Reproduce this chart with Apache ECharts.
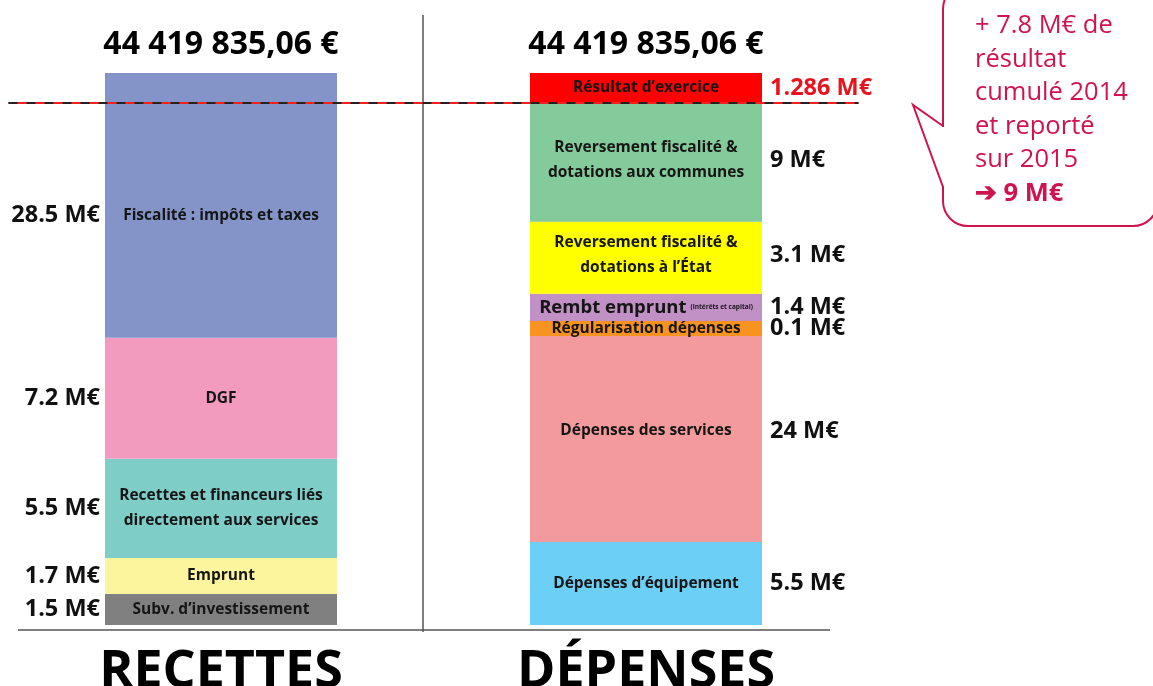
<!DOCTYPE html>
<html>
<head>
<meta charset="utf-8">
<script src="https://cdn.jsdelivr.net/npm/echarts@6/dist/echarts.min.js"></script>
<style>
  html, body { margin: 0; padding: 0; background: #fff; }
  #chart { width: 1153px; height: 686px; }
</style>
</head>
<body>
<div id="chart"></div>
<script>
const categories = ['RECETTES', 'DÉPENSES'];
const totals = ['44 419 835,06 €', '44 419 835,06 €'];

// recettes, du bas vers le haut (hauteurs telles que dessinées, schéma non proportionnel)
const recettesPostes = ['Subv. d’investissement', 'Emprunt', 'Recettes et financeurs liés\ndirectement aux services', 'DGF', 'Fiscalité : impôts et taxes'];
const recettesMontants = ['1.5 M€', '1.7 M€', '5.5 M€', '7.2 M€', '28.5 M€'];
const recettesHauteurs = [2.5, 2.9, 8.0, 9.75, 21.35];

// dépenses, du bas vers le haut
const depensesPostes = ['Dépenses d’équipement', 'Dépenses des services', 'Régularisation dépenses', '{a|Rembt emprunt} {b|(intérêts et capital)}', 'Reversement fiscalité &\ndotations à l’État', 'Reversement fiscalité &\ndotations aux communes', 'Résultat d’exercice'];
const depensesMontants = ['5.5 M€', '24 M€', '0.1 M€', '1.4 M€', '3.1 M€', '9 M€', '1.286 M€'];
const depensesHauteurs = [6.7, 16.6, 1.2, 2.2, 5.8, 9.6, 2.4];

const bulleLignes = ['+ 7.8 M€ de', 'résultat', 'cumulé 2014', 'et reporté', 'sur 2015'];
const bulleConclusion = '➔ 9 M€';

// styles
const recettesCouleurs = ['#808080', '#fdf59d', '#7fcdc7', '#f39abf', '#8494c8'];
const depensesCouleurs = ['#6ccff5', '#f29a9c', '#f7931e', '#c190c5', '#ffff00', '#84cb9c', '#ff0000'];
const recettesDecalages = [0, 0, 0, 0, 10];
const depensesDecalages = [0, -8, 0, 0, -3, -2, 0];
const police = '"Open Sans", "Noto Sans", sans-serif';
const rouge = '#d0134e';

// niveau du trait pointillé : sommet des dépenses hors résultat
const niveauResultat = depensesHauteurs.slice(0, -1).reduce((a, b) => a + b, 0);

const series = [];
function ajouter(postes, montants, hauteurs, couleurs, decalages, col) {
  postes.forEach(function (nom, i) {
    const data = col === 0 ? [hauteurs[i], '-'] : ['-', hauteurs[i]];
    series.push({
      type: 'bar',
      stack: 'barres',
      barWidth: 232,
      barGap: '-100%',
      data: data,
      itemStyle: { color: couleurs[i] },
      label: {
        show: true,
        position: 'inside',
        offset: [0, decalages[i]],
        formatter: nom,
        fontFamily: police,
        fontWeight: 'bold',
        fontSize: 15.5,
        lineHeight: 25,
        color: '#151515',
        rich: {
          a: { fontFamily: police, fontWeight: 'bold', fontSize: 18.5, color: '#151515' },
          b: { fontFamily: police, fontWeight: 'bold', fontSize: 6.5, color: '#151515' }
        }
      }
    });
    const rougeMontant = col === 1 && i === postes.length - 1;
    series.push({
      type: 'bar',
      stack: 'montants',
      barWidth: 232,
      barGap: '-100%',
      data: data,
      itemStyle: { color: 'transparent' },
      label: {
        show: true,
        position: col === 0 ? 'left' : 'right',
        distance: col === 0 ? 5 : 8,
        offset: [0, decalages[i]],
        formatter: montants[i],
        fontFamily: police,
        fontWeight: 'bold',
        fontSize: 23.5,
        color: rougeMontant ? '#e8141c' : '#111'
      }
    });
  });
}
ajouter(recettesPostes, recettesMontants, recettesHauteurs, recettesCouleurs, recettesDecalages, 0);
ajouter(depensesPostes, depensesMontants, depensesHauteurs, depensesCouleurs, depensesDecalages, 1);

// trait rouge continu + tirets noirs au niveau du résultat
series[series.length - 2].markLine = {
  silent: true,
  symbol: 'none',
  label: { show: false },
  data: [{ yAxis: niveauResultat, lineStyle: { color: '#ff1f1f', width: 2, type: 'solid', opacity: 1 } }]
};
series[series.length - 1].markLine = {
  silent: true,
  symbol: 'none',
  label: { show: false },
  data: [{ yAxis: niveauResultat, lineStyle: { color: '#222', width: 2, type: [9, 9], opacity: 1 } }]
};

const bulleTextes = bulleLignes.map(function (t, i) {
  return {
    type: 'text', left: 975, top: 13 + i * 33.5, z: 20,
    style: { text: t, fill: rouge, font: '25.5px ' + police }
  };
});
bulleTextes.push({
  type: 'text', left: 975, top: 13 + 5 * 33.5, z: 20,
  style: { text: bulleConclusion, fill: rouge, font: 'bold 25.5px ' + police }
});

const chart = echarts.init(document.getElementById('chart'));
chart.setOption({
  animation: false,
  backgroundColor: '#fff',
  grid: { left: 8.5, right: 294.5, top: 73, bottom: 61, outerBoundsMode: 'none', containLabel: false },
  xAxis: [
    {
      type: 'category',
      data: categories,
      axisLine: { show: false },
      axisTick: { show: false },
      axisLabel: { margin: 21, fontFamily: police, fontWeight: 'bold', fontSize: 52, color: '#000' }
    },
    {
      type: 'category',
      position: 'top',
      data: categories,
      axisLine: { show: false },
      axisTick: { show: false },
      axisLabel: {
        margin: 12,
        formatter: function (v, i) { return totals[i]; },
        fontFamily: police, fontWeight: 'bold', fontSize: 32, color: '#000'
      }
    }
  ],
  yAxis: { type: 'value', min: 0, max: 44.5, show: false },
  series: series,
  graphic: [
    { type: 'line', shape: { x1: 423, y1: 15, x2: 423, y2: 632 }, style: { stroke: '#555', lineWidth: 1.5 } },
    { type: 'line', shape: { x1: 18, y1: 630, x2: 830, y2: 630 }, style: { stroke: '#555', lineWidth: 1.5 } },
    { type: 'rect', shape: { x: 943, y: -16, width: 215, height: 242, r: 25 }, style: { fill: '#fff', stroke: rouge, lineWidth: 2 } },
    { type: 'polygon', shape: { points: [[941, 127], [946, 127], [946, 186], [941, 186]] }, style: { fill: '#fff' } },
    { type: 'polyline', shape: { points: [[943, 126], [913, 105], [943, 187]] }, style: { stroke: rouge, lineWidth: 2, fill: null } }
  ].concat(bulleTextes)
});
</script>
</body>
</html>
